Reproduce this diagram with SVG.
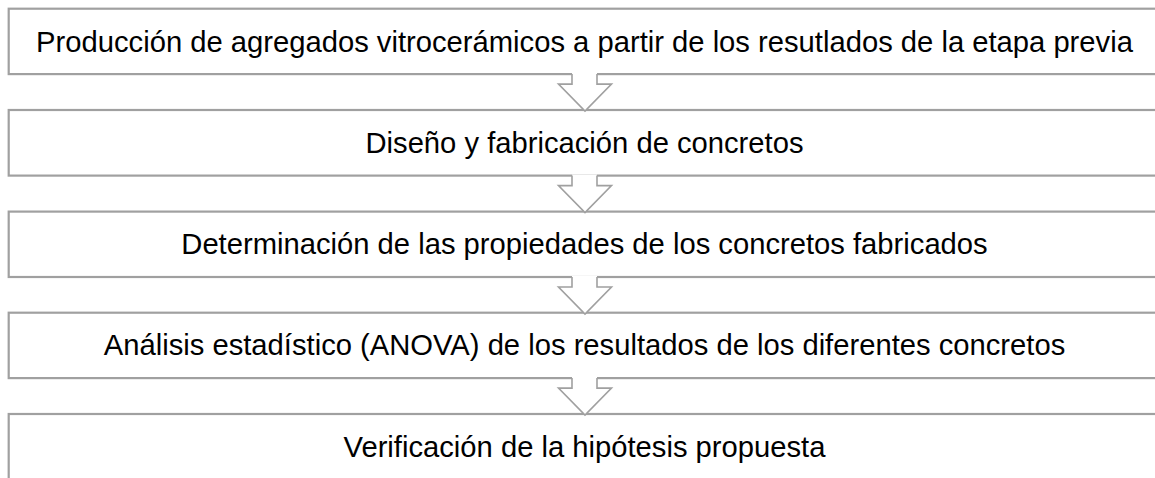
<svg xmlns="http://www.w3.org/2000/svg" width="1155" height="478" viewBox="0 0 1155 478">
  <style>
    .box { fill: #ffffff; stroke: #a0a0a0; stroke-width: 2.2; }
    .lbl { font-family: "Liberation Sans", Arial, sans-serif; font-size: 29.2px; fill: #000000; text-anchor: middle; }
    .amask { fill: #ffffff; stroke: none; }
    .aline { fill: none; stroke: #a0a0a0; stroke-width: 1.6; stroke-linejoin: miter; }
  </style>
  <defs>
    <g id="arrow">
      <polygon class="amask" points="572,-1 597,-1 597,10 611.5,10 585,37 558.5,10 572,10"/>
      <polyline class="aline" points="572,0 572,10 558.5,10 585,37 611.5,10 597,10 597,0"/>
    </g>
  </defs>
  <rect width="1155" height="478" fill="#ffffff"/>
  <g id="node1">
    <rect class="box" x="8.7" y="8.7" width="1153" height="65.4"/>
    <text class="lbl" x="584.5" y="51.7">Producción de agregados vitrocerámicos a partir de los resutlados de la etapa previa</text>
  </g>
  <g id="node2">
    <rect class="box" x="8.7" y="110" width="1153" height="65.6"/>
    <text class="lbl" x="584.5" y="152.6">Diseño y fabricación de concretos</text>
  </g>
  <g id="node3">
    <rect class="box" x="8.7" y="211.6" width="1153" height="65.4"/>
    <text class="lbl" x="584.5" y="254.3">Determinación de las propiedades de los concretos fabricados</text>
  </g>
  <g id="node4">
    <rect class="box" x="8.7" y="312.7" width="1153" height="65.4"/>
    <text class="lbl" x="584.5" y="355.4">Análisis estadístico (ANOVA) de los resultados de los diferentes concretos</text>
  </g>
  <g id="node5">
    <rect class="box" x="8.7" y="414" width="1153" height="65.6"/>
    <text class="lbl" x="584.5" y="456.8">Verificación de la hipótesis propuesta</text>
  </g>
  <g id="connectors">
    <use href="#arrow" transform="translate(0,74.1)"/>
    <use href="#arrow" transform="translate(0,175.6)"/>
    <use href="#arrow" transform="translate(0,277)"/>
    <use href="#arrow" transform="translate(0,378.1)"/>
  </g>
</svg>
